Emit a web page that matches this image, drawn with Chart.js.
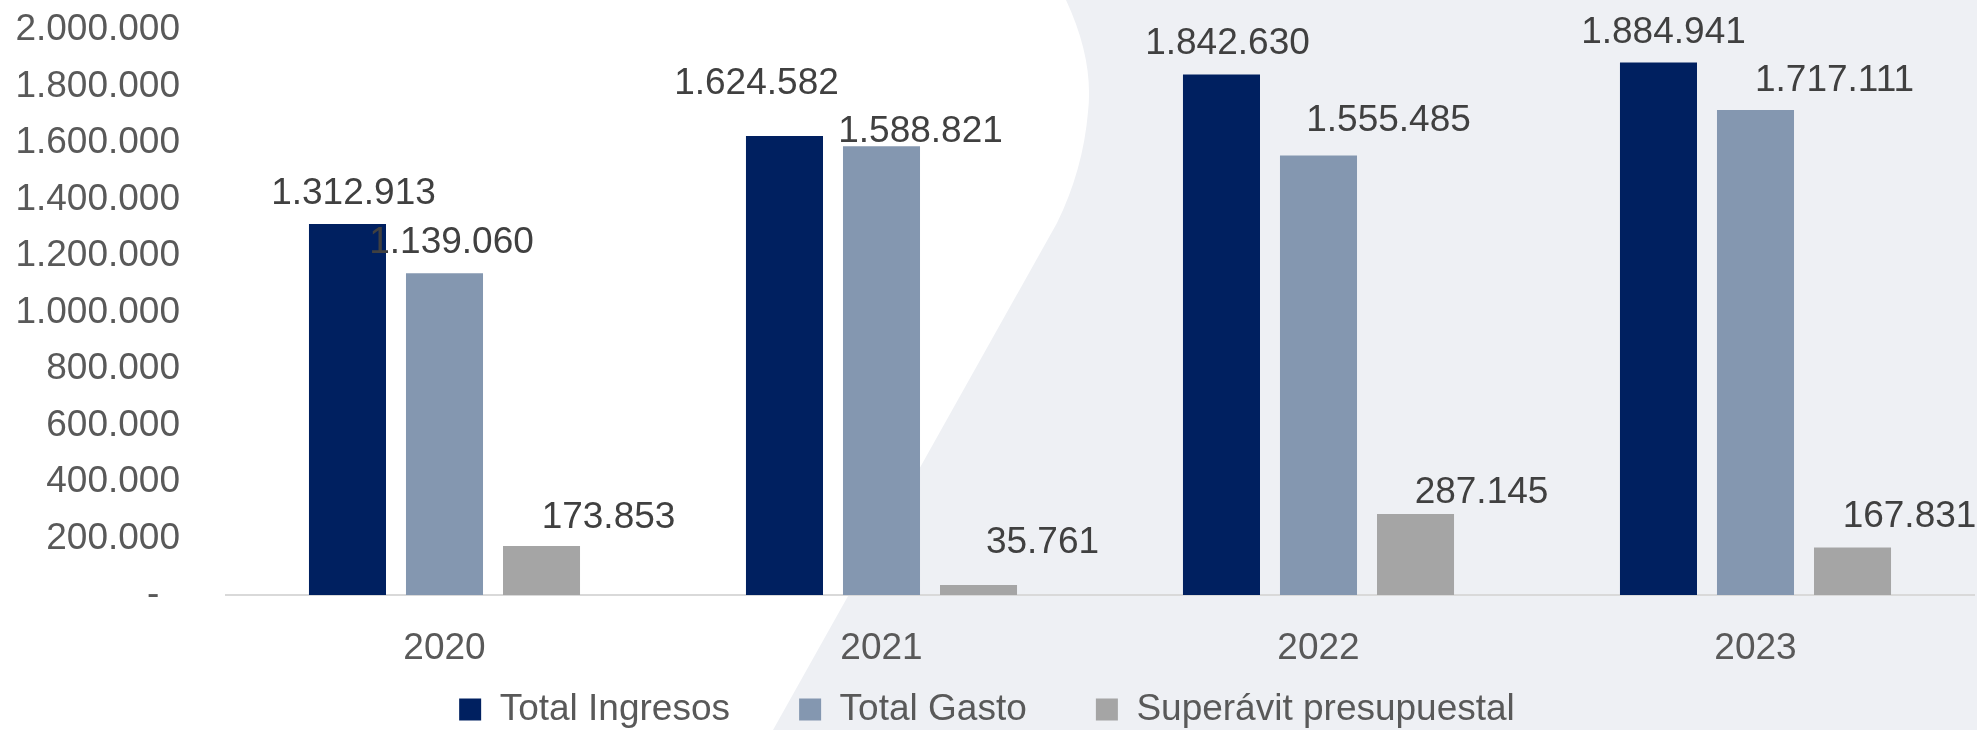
<!DOCTYPE html>
<html>
<head>
<meta charset="utf-8">
<script src="https://cdn.jsdelivr.net/npm/chart.js@4.4.1/dist/chart.umd.min.js"></script>
<style>
  html, body { margin: 0; padding: 0; overflow: hidden; background: #eef0f4; }
  #bg { position: absolute; left: 0; top: 0; }
  #chart { position: absolute; left: 0; top: 0; }
</style>
</head>
<body>
<svg id="bg" width="1977" height="730">
  <path d="M0,0 L1066,0 Q1094,60 1088,112 Q1083,170 1057,223 L773,730 L0,730 Z" fill="#ffffff"/>
</svg>
<canvas id="chart" width="1977" height="738"></canvas>
<script>
const years = ['2020', '2021', '2022', '2023'];
const ingresos = [1312913, 1624582, 1842630, 1884941];
const gasto = [1139060, 1588821, 1555485, 1717111];
const superavit = [173853, 35761, 287145, 167831];
const yTicks = [0, 200000, 400000, 600000, 800000, 1000000, 1200000, 1400000, 1600000, 1800000, 2000000];

// hand-placed label nudges (dx, dy from bar top centre), like in the original
const labelNudge = [
    [[6, -33], [-28, -55], [6, -33], [5, -33]],
    [[7, -33], [39, -17], [70, -38], [79, -32]],
    [[67, -31], [64, -45], [66, -24], [57, -34]]
];

const FONT = '"Liberation Sans", Arial, sans-serif';

function fmt(v) {
    return String(v).replace(/\B(?=(\d{3})+(?!\d))/g, '.');
}

const valueLabels = {
    id: 'valueLabels',
    afterDatasetsDraw(chart) {
        const ctx = chart.ctx;
        ctx.save();
        ctx.font = '37px ' + FONT;
        ctx.fillStyle = '#404040';
        ctx.textAlign = 'center';
        ctx.textBaseline = 'alphabetic';
        chart.data.datasets.forEach((ds, i) => {
            chart.getDatasetMeta(i).data.forEach((bar, j) => {
                const n = labelNudge[i][j];
                ctx.fillText(fmt(ds.data[j]), bar.x + n[0], bar.y + n[1] + 13);
            });
        });
        ctx.restore();
    }
};

window.onload = function() {
    const ctx = document.getElementById('chart').getContext('2d');
    new Chart(ctx, {
        type: 'bar',
        data: {
            labels: years,
            datasets: [
                { label: 'Total Ingresos', data: ingresos, backgroundColor: '#002060' },
                { label: 'Total Gasto', data: gasto, backgroundColor: '#8497b0' },
                { label: 'Superávit presupuestal', data: superavit, backgroundColor: '#a5a5a5' }
            ]
        },
        options: {
            responsive: false,
            animation: false,
            devicePixelRatio: 1,
            categoryPercentage: 0.666,
            barPercentage: 0.794,
            layout: { padding: { top: 30, right: 3, left: 0, bottom: 0 } },
            plugins: {
                tooltip: { enabled: false },
                legend: {
                    position: 'bottom',
                    labels: {
                        boxWidth: 22,
                        boxHeight: 22,
                        padding: 28,
                        color: '#595959',
                        font: { family: FONT, size: 37 },
                        // extra room between the entries, as in the original
                        generateLabels(chart) {
                            const items = Chart.defaults.plugins.legend.labels.generateLabels(chart);
                            items.forEach((it, i) => {
                                if (i < items.length - 1) it.text += '    ';
                            });
                            return items;
                        }
                    }
                }
            },
            scales: {
                x: {
                    grid: { display: false, tickLength: 8 },
                    border: { color: '#d9d9d9', width: 2 },
                    ticks: { color: '#595959', padding: 24, font: { family: FONT, size: 37 } },
                    afterFit(scale) { scale.height = 68; }
                },
                y: {
                    min: 0,
                    max: 2000000,
                    grid: { display: false, tickLength: 46 },
                    border: { display: false },
                    afterBuildTicks(scale) {
                        scale.ticks = yTicks.map(v => ({ value: v }));
                    },
                    ticks: {
                        autoSkip: false,
                        color: '#595959',
                        padding: 0,
                        font: { family: FONT, size: 37 },
                        callback: v => v === 0 ? '-  ' : fmt(v)
                    },
                    afterFit(scale) { scale.width = 226; }
                }
            }
        },
        plugins: [valueLabels]
    });
};
</script>
</body>
</html>
